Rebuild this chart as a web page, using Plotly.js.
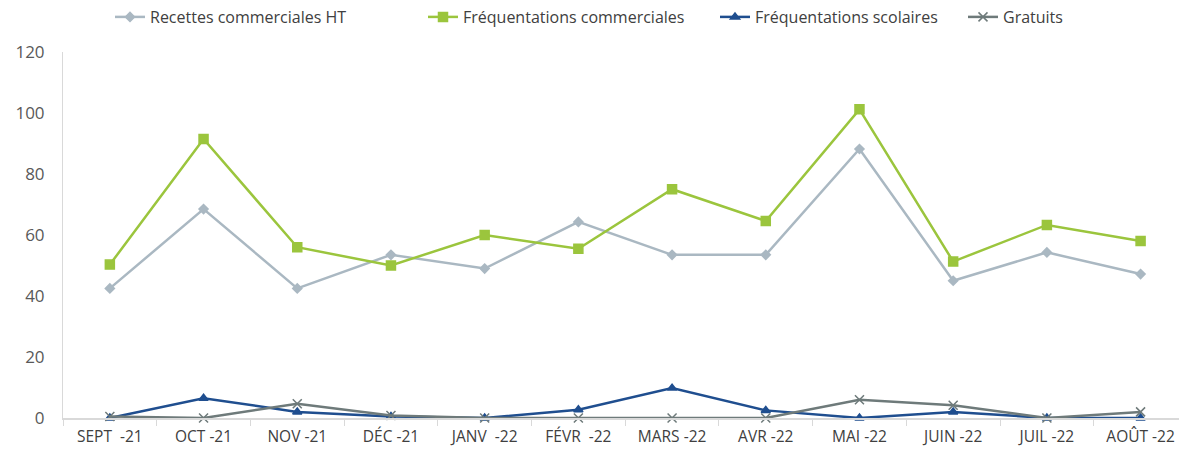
<!DOCTYPE html>
<html>
<head>
<meta charset="utf-8">
<script src="https://cdn.plot.ly/plotly-3.0.1.min.js"></script>
<style>html,body{margin:0;padding:0;background:#fff;}#chart{width:1179px;height:452px;}</style>
</head>
<body>
<div id="chart"></div>
<script>
const categories = ["SEPT\u00a0 -21","OCT -21","NOV -21","DÉC -21","JANV\u00a0 -22","FÉVR\u00a0 -22","MARS -22","AVR -22","MAI -22","JUIN -22","JUIL -22","AOÛT -22"];
const recettesHT = [42.5, 68.5, 42.5, 53.5, 49, 64.3, 53.5, 53.5, 88.2, 45, 54.3, 47.2];
const frequentationsCommerciales = [50.3, 91.5, 56, 50, 60, 55.5, 75, 64.6, 101.2, 51.3, 63.3, 58];
const frequentationsScolaires = [0, 6.5, 2, 0.5, 0, 2.7, 9.8, 2.5, 0, 2, 0, 0];
const gratuits = [0.5, 0, 4.7, 0.8, 0, 0, 0, 0, 6, 4.2, 0, 2];
const seriesNames = ["Recettes commerciales HT","Fréquentations commerciales","Fréquentations scolaires","Gratuits"];
const yTicks = [0, 20, 40, 60, 80, 100, 120];

const colors = ["#aab8c2", "#9bc53d", "#1f4e8f", "#6e7a7a"];
const symbols = ["diamond", "square", "triangle-up", "x-thin"];
const dataSets = [recettesHT, frequentationsCommerciales, frequentationsScolaires, gratuits];
const legendIds = ["legend", "legend2", "legend3", "legend4"];
const markerSizes = [7, 9, 8, 9];

const traces = dataSets.map((d, i) => ({
  type: "scatter",
  mode: "lines+markers",
  x: categories,
  y: d,
  name: seriesNames[i],
  legend: legendIds[i],
  line: {color: colors[i], width: 2.5},
  marker: {symbol: symbols[i], size: markerSizes[i], color: colors[i], line: {color: colors[i], width: 1.5}},
  cliponaxis: false
}));
const W = 1116, left = 63;
function lx(px){ return (px - left) / W; }
const legendBase = {orientation: "h", yanchor: "middle", xanchor: "left", y: 1.096,
  font: {family: "Open Sans, sans-serif", size: 16, color: "#404040"}, bgcolor: "rgba(0,0,0,0)",
  itemwidth: 30, tracegroupgap: 0};
const layout = {
  width: 1179, height: 452,
  margin: {l: 63, r: 0, t: 52, b: 34},
  paper_bgcolor: "#fff", plot_bgcolor: "#fff",
  showlegend: true,
  legend: Object.assign({}, legendBase, {x: lx(110)}),
  legend2: Object.assign({}, legendBase, {x: lx(423)}),
  legend3: Object.assign({}, legendBase, {x: lx(715)}),
  legend4: Object.assign({}, legendBase, {x: lx(963)}),
  xaxis: {
    type: "category", range: [-0.5, 11.41],
    showline: true, linecolor: "#d9d9d9", linewidth: 1.5,
    ticks: "outside", tickson: "boundaries", ticklen: 6, tickcolor: "#d9d9d9",
    showgrid: false, zeroline: false, ticklabelstandoff: 4,
    tickfont: {family: "Open Sans, sans-serif", size: 15.5, color: "#404040"}
  },
  yaxis: {
    range: [0, 120], tickvals: yTicks, ticktext: yTicks.map(String),
    showline: true, linecolor: "#d9d9d9", linewidth: 1,
    showgrid: false, zeroline: false, ticks: "", ticklabelstandoff: 14,
    tickfont: {family: "Open Sans, sans-serif", size: 17, color: "#595959"}
  }
};
Plotly.newPlot("chart", traces, layout, {displayModeBar: false, staticPlot: true});
</script>
</body>
</html>
